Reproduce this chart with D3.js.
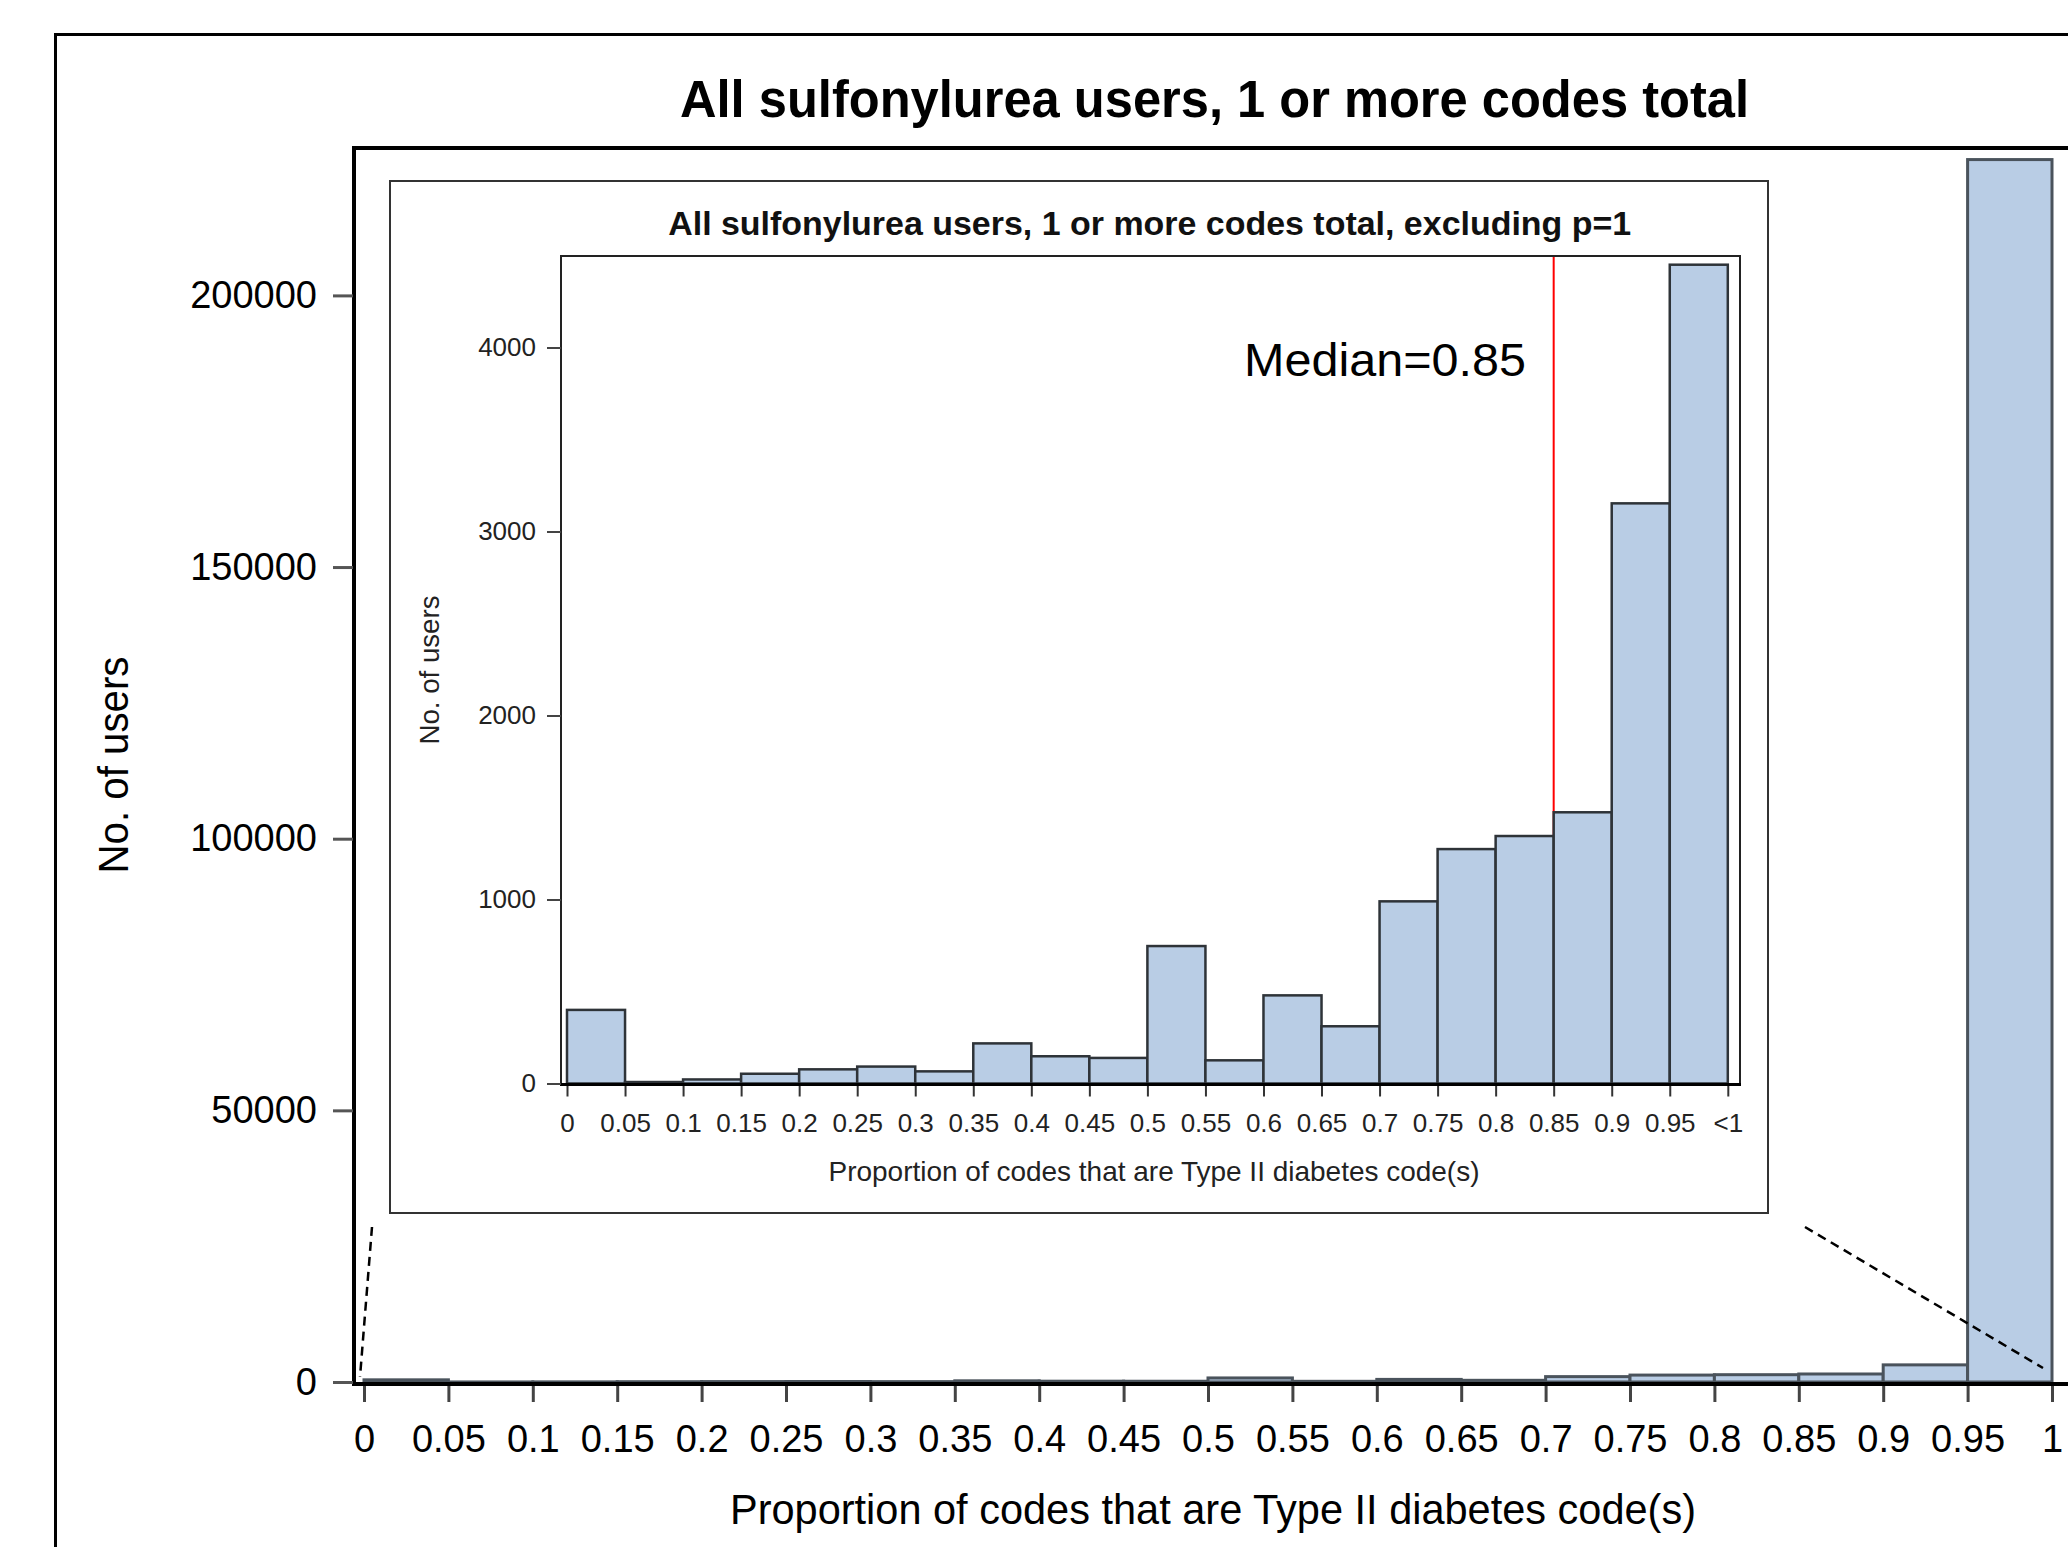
<!DOCTYPE html>
<html>
<head>
<meta charset="utf-8">
<script src="https://cdn.jsdelivr.net/npm/d3@7"></script>
<style>
  html, body { margin: 0; padding: 0; background: #fff; }
  svg { display: block; }
  text { font-family: "Liberation Sans", Arial, sans-serif; }
</style>
</head>
<body>
<svg id="chart" width="2068" height="1547"></svg>
<script>
// ---------------- DATA ----------------
const binStarts = [0, 0.05, 0.1, 0.15, 0.2, 0.25, 0.3, 0.35, 0.4, 0.45,
                   0.5, 0.55, 0.6, 0.65, 0.7, 0.75, 0.8, 0.85, 0.9, 0.95];
const binWidth = 0.05;
// inset histogram (excluding p=1)
const insetCounts = [400, 8, 22, 53, 77, 92, 66, 218, 148, 139,
                     747, 126, 479, 311, 990, 1274, 1345, 1474, 3153, 4450];
// main histogram (all users; last bin contains p=1)
const mainCounts = [400, 8, 22, 53, 77, 92, 66, 218, 148, 139,
                    747, 126, 479, 311, 990, 1274, 1345, 1474, 3153, 225000];
const tickValuesX = [0, 0.05, 0.1, 0.15, 0.2, 0.25, 0.3, 0.35, 0.4, 0.45, 0.5,
                     0.55, 0.6, 0.65, 0.7, 0.75, 0.8, 0.85, 0.9, 0.95, 1];
const mainXTickLabels = ["0","0.05","0.1","0.15","0.2","0.25","0.3","0.35","0.4","0.45","0.5",
                         "0.55","0.6","0.65","0.7","0.75","0.8","0.85","0.9","0.95","1"];
const insetXTickLabels = ["0","0.05","0.1","0.15","0.2","0.25","0.3","0.35","0.4","0.45","0.5",
                          "0.55","0.6","0.65","0.7","0.75","0.8","0.85","0.9","0.95","<1"];
const mainYTicks = [0, 50000, 100000, 150000, 200000];
const insetYTicks = [0, 1000, 2000, 3000, 4000];
const medianValue = 0.85;

const mainTitle = "All sulfonylurea users, 1 or more codes total";
const insetTitle = "All sulfonylurea users, 1 or more codes total, excluding p=1";
const xTitle = "Proportion of codes that are Type II diabetes code(s)";
const yTitle = "No. of users";
const medianLabel = "Median=0.85";

// ---------------- STYLE ----------------
const barFill = "#b9cde5";
const svg = d3.select("#chart");

// ---------------- SCALES ----------------
const xMain = d3.scaleLinear().domain([0, 1]).range([364, 2052]);
const yMain = d3.scaleLinear().domain([0, 200000]).range([1382, 295.4]);
const xIn = d3.scaleLinear().domain([0, 1]).range([567, 1727.8]);
const yIn = d3.scaleLinear().domain([0, 4000]).range([1083.5, 347.5]);

// ---------------- OUTER FRAME ----------------
svg.append("rect").attr("x", 55.5).attr("y", 34.5).attr("width", 2100).attr("height", 1600)
  .attr("fill", "none").attr("stroke", "#000").attr("stroke-width", 3);

// main title
svg.append("text").attr("x", 1214.5).attr("y", 116.7).attr("text-anchor", "middle")
  .attr("font-size", 51).attr("font-weight", "bold").attr("fill", "#000")
  .attr("textLength", 1069).attr("lengthAdjust", "spacingAndGlyphs")
  .text(mainTitle);

// ---------------- MAIN BARS ----------------
svg.append("g").selectAll("rect").data(mainCounts).join("rect")
  .attr("x", (d, i) => xMain(binStarts[i]))
  .attr("width", (d, i) => xMain(binStarts[i] + binWidth) - xMain(binStarts[i]))
  .attr("y", d => yMain(d))
  .attr("height", d => yMain(0) - yMain(d))
  .attr("fill", barFill).attr("stroke", "#4a535c").attr("stroke-width", 3);

// main plot frame (left + top)
svg.append("path").attr("d", "M354,1386 L354,148 L2100,148")
  .attr("fill", "none").attr("stroke", "#000").attr("stroke-width", 4);

// main x axis
const gxMain = svg.append("g").attr("transform", `translate(0,${yMain(0)})`)
  .call(d3.axisBottom(xMain).tickValues(tickValuesX).tickSize(20).tickPadding(23)
    .tickFormat((d, i) => mainXTickLabels[i]));
gxMain.select(".domain").remove();
gxMain.selectAll(".tick line").attr("stroke", "#444").attr("stroke-width", 3);
gxMain.selectAll(".tick text").attr("font-size", 38).attr("fill", "#000")
  .attr("font-family", "'Liberation Sans', Arial, sans-serif");
svg.append("line").attr("x1", 352).attr("x2", 2068).attr("y1", 1384).attr("y2", 1384)
  .attr("stroke", "#000").attr("stroke-width", 4);

// main y axis
const gyMain = svg.append("g").attr("transform", "translate(353,0)")
  .call(d3.axisLeft(yMain).tickValues(mainYTicks).tickSize(20).tickPadding(16)
    .tickFormat(d3.format("d")));
gyMain.select(".domain").remove();
gyMain.selectAll(".tick line").attr("stroke", "#555").attr("stroke-width", 3);
gyMain.selectAll(".tick text").attr("font-size", 38).attr("fill", "#000")
  .attr("font-family", "'Liberation Sans', Arial, sans-serif");

// main axis titles
svg.append("text").attr("x", 1213).attr("y", 1524).attr("text-anchor", "middle")
  .attr("font-size", 42).attr("fill", "#000")
  .attr("textLength", 966).attr("lengthAdjust", "spacingAndGlyphs").text(xTitle);
svg.append("text").attr("transform", "translate(128,765) rotate(-90)").attr("text-anchor", "middle")
  .attr("font-size", 42).attr("fill", "#000")
  .attr("textLength", 217).attr("lengthAdjust", "spacingAndGlyphs").text(yTitle);

// dashed connector lines
svg.append("line").attr("x1", 372).attr("y1", 1227).attr("x2", xMain(0) - 4).attr("y2", yMain(0) - 5)
  .attr("stroke", "#000").attr("stroke-width", 2.5).attr("stroke-dasharray", "9,6");
svg.append("line").attr("x1", 1805).attr("y1", 1227).attr("x2", xMain(1) - 9).attr("y2", yMain(0) - 14)
  .attr("stroke", "#000").attr("stroke-width", 2.5).attr("stroke-dasharray", "9,6");

// ---------------- INSET ----------------
svg.append("rect").attr("x", 390).attr("y", 181).attr("width", 1378).attr("height", 1032)
  .attr("fill", "#fff").attr("stroke", "#333").attr("stroke-width", 2);

svg.append("text").attr("x", 1149.7).attr("y", 235).attr("text-anchor", "middle")
  .attr("font-size", 34).attr("font-weight", "bold").attr("fill", "#111")
  .attr("textLength", 963).attr("lengthAdjust", "spacingAndGlyphs").text(insetTitle);

// inner plot frame
svg.append("rect").attr("x", 561).attr("y", 256).attr("width", 1179).attr("height", 828)
  .attr("fill", "none").attr("stroke", "#222").attr("stroke-width", 2);

// median line
svg.append("line").attr("x1", xIn(medianValue)).attr("x2", xIn(medianValue))
  .attr("y1", 257).attr("y2", yIn(0))
  .attr("stroke", "#ff0000").attr("stroke-width", 2);

// inset bars
svg.append("g").selectAll("rect").data(insetCounts).join("rect")
  .attr("x", (d, i) => xIn(binStarts[i]))
  .attr("width", (d, i) => xIn(binStarts[i] + binWidth) - xIn(binStarts[i]))
  .attr("y", d => yIn(d))
  .attr("height", d => yIn(0) - yIn(d))
  .attr("fill", barFill).attr("stroke", "#2e3338").attr("stroke-width", 2.5);

// inset x axis
const gxIn = svg.append("g").attr("transform", `translate(0,${yIn(0)})`)
  .call(d3.axisBottom(xIn).tickValues(tickValuesX).tickSize(13).tickPadding(17)
    .tickFormat((d, i) => insetXTickLabels[i]));
gxIn.select(".domain").remove();
gxIn.selectAll(".tick line").attr("stroke", "#333").attr("stroke-width", 2);
gxIn.selectAll(".tick text").attr("font-size", 26).attr("fill", "#222")
  .attr("font-family", "'Liberation Sans', Arial, sans-serif");
svg.append("line").attr("x1", 560).attr("x2", 1741).attr("y1", yIn(0) + 1).attr("y2", yIn(0) + 1)
  .attr("stroke", "#000").attr("stroke-width", 3);

// inset y axis
const gyIn = svg.append("g").attr("transform", "translate(561,0)")
  .call(d3.axisLeft(yIn).tickValues(insetYTicks).tickSize(14).tickPadding(11)
    .tickFormat(d3.format("d")));
gyIn.select(".domain").remove();
gyIn.selectAll(".tick line").attr("stroke", "#444").attr("stroke-width", 2);
gyIn.selectAll(".tick text").attr("font-size", 26).attr("fill", "#222")
  .attr("font-family", "'Liberation Sans', Arial, sans-serif");

// inset axis titles
svg.append("text").attr("x", 1154).attr("y", 1181).attr("text-anchor", "middle")
  .attr("font-size", 28).attr("fill", "#222")
  .attr("textLength", 651).attr("lengthAdjust", "spacingAndGlyphs").text(xTitle);
svg.append("text").attr("transform", "translate(439,670) rotate(-90)").attr("text-anchor", "middle")
  .attr("font-size", 28).attr("fill", "#222")
  .attr("textLength", 149).attr("lengthAdjust", "spacingAndGlyphs").text(yTitle);

// median label
svg.append("text").attr("x", 1244).attr("y", 376)
  .attr("font-family", "'Open Sans', 'Noto Sans', sans-serif")
  .attr("font-size", 46).attr("fill", "#000")
  .attr("textLength", 282).attr("lengthAdjust", "spacingAndGlyphs").text(medianLabel);
</script>
</body>
</html>
